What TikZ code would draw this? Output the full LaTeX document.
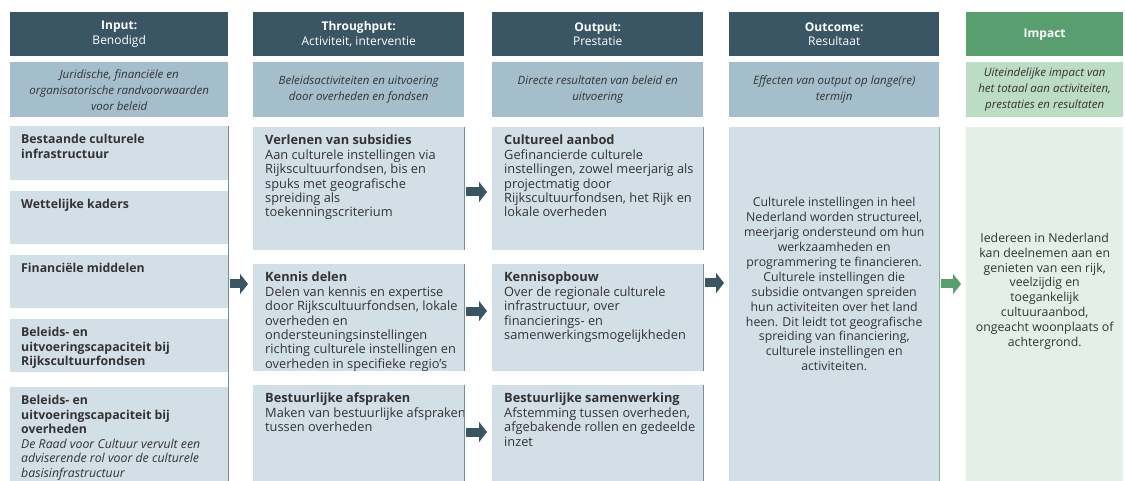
\documentclass[tikz,border=0pt]{standalone}
\usepackage{fontspec}
\setmainfont{Open Sans}
\usetikzlibrary{arrows.meta}

\definecolor{headdark}{HTML}{3A5564}
\definecolor{headgreen}{HTML}{589E6E}
\definecolor{subblue}{HTML}{A4BFCB}
\definecolor{subgreen}{HTML}{BCDCC4}
\definecolor{cellblue}{HTML}{D3DFE6}
\definecolor{cellgreen}{HTML}{E4F0E7}
\definecolor{edgeblue}{HTML}{7A8D99}
\definecolor{edgegreen}{HTML}{7DB38F}
\definecolor{inkgray}{HTML}{333333}

\tikzset{
  box/.style={anchor=north west, inner sep=0pt},
  head/.style={box, fill=headdark, minimum height=44pt, text=white, align=center,
    font=\fontsize{12}{14.5}\selectfont},
  sub/.style={box, fill=subblue, minimum height=55pt, text=inkgray, align=center,
    font=\fontsize{11.5}{16}\selectfont\itshape},
  cell/.style={box, fill=cellblue},
  txt/.style={anchor=north west, inner sep=0pt, align=left, text=inkgray,
    xshift=12pt, yshift=-8pt, font=\fontsize{12.8}{14.4}\selectfont},
  intxt/.style={txt, xshift=-1pt, font=\fontsize{12.3}{14.6}\selectfont},
  mid/.style={inner sep=0pt, align=center, text=inkgray,
    font=\fontsize{12.3}{14.9}\selectfont},
  flow/.style={line width=9pt, -{Triangle[length=8pt,width=20pt]}, headdark,
    shorten <=2pt, shorten >=5pt},
}

\begin{document}
\begin{tikzpicture}[x=1pt, y=-1pt]
  \useasboundingbox (0,0) rectangle (1125,481);

  % column heads
  \node[head, minimum width=218pt] (hin) at (10,12) {\textbf{Input:}\\Benodigd};
  \node[head, minimum width=211pt] (hthr) at (253,12) {\textbf{Throughput:}\\Activiteit, interventie};
  \node[head, minimum width=211pt] (hout) at (492,12) {\textbf{Output:}\\Prestatie};
  \node[head, minimum width=210pt] (hoc) at (729,12) {\textbf{Outcome:}\\Resultaat};
  \node[head, fill=headgreen, minimum width=157pt] (himp) at (966,12) {\textbf{Impact}};

  \node[sub, minimum width=218pt] (sin) at (10,62) {Juridische, financiële en\\organisatorische randvoorwaarden\\voor beleid};
  \node[sub, minimum width=211pt] (sthr) at (253,62) {Beleidsactiviteiten en uitvoering\\door overheden en fondsen};
  \node[sub, minimum width=211pt] (sout) at (492,62) {Directe resultaten van beleid en\\uitvoering};
  \node[sub, minimum width=210pt] (soc) at (729,62) {Effecten van output op lange(re)\\termijn};
  \node[sub, fill=subgreen, minimum width=157pt] (simp) at (966,62) {Uiteindelijke impact van\\het totaal aan activiteiten,\\prestaties en resultaten};

  % input
  \node[cell, minimum width=218pt, minimum height=54pt] (in1) at (10,126) {};
  \node[cell, minimum width=218pt, minimum height=53pt] (in2) at (10,191) {};
  \node[cell, minimum width=218pt, minimum height=53pt] (in3) at (10,255) {};
  \node[cell, minimum width=218pt, minimum height=53pt] (in4) at (10,319) {};
  \node[cell, minimum width=218pt, minimum height=94pt] (in5) at (10,387) {};
  \draw[edgeblue] (in1.north east) -- (in5.south east);

  \node[intxt] (in1t) at (in1.north west) {\textbf{Bestaande culturele}\\\textbf{infrastructuur}};
  \node[intxt] (in2t) at (in2.north west) {\textbf{Wettelijke kaders}};
  \node[intxt] (in3t) at (in3.north west) {\textbf{Financiële middelen}};
  \node[intxt] (in4t) at (in4.north west) {\textbf{Beleids- en}\\\textbf{uitvoeringscapaciteit bij}\\\textbf{Rijkscultuurfondsen}};
  \node[intxt] (in5t) at (in5.north west) {\textbf{Beleids- en}\\\textbf{uitvoeringscapaciteit bij}\\\textbf{overheden}\\\textit{De Raad voor Cultuur vervult een}\\\textit{adviserende rol voor de culturele}\\\textit{basisinfrastructuur}};

  % throughput
  \node[cell, minimum width=211pt, minimum height=123pt] (thr1) at (253,127) {};
  \node[cell, minimum width=211pt, minimum height=107pt] (thr2) at (253,264) {};
  \node[cell, minimum width=211pt, minimum height=96pt] (thr3) at (253,385) {};

  \node[txt] (thr1t) at (thr1.north west) {\textbf{Verlenen van subsidies}\\Aan culturele instellingen via\\Rijkscultuurfondsen, bis en\\spuks met geografische\\spreiding als\\toekenningscriterium};
  \node[txt] (thr2t) at (thr2.north west) {\textbf{Kennis delen}\\Delen van kennis en expertise\\door Rijkscultuurfondsen, lokale\\overheden en\\ondersteuningsinstellingen\\richting culturele instellingen en\\overheden in specifieke regio’s};
  \node[txt] (thr3t) at (thr3.north west) {\textbf{Bestuurlijke afspraken}\\Maken van bestuurlijke afspraken\\tussen overheden};

  % output
  \node[cell, minimum width=211pt, minimum height=123pt] (out1) at (492,127) {};
  \node[cell, minimum width=211pt, minimum height=107pt] (out2) at (492,264) {};
  \node[cell, minimum width=211pt, minimum height=96pt] (out3) at (492,385) {};

  \node[txt] (out1t) at (out1.north west) {\textbf{Cultureel aanbod}\\Gefinancierde culturele\\instellingen, zowel meerjarig als\\projectmatig door\\Rijkscultuurfondsen, het Rijk en\\lokale overheden};
  \node[txt] (out2t) at (out2.north west) {\textbf{Kennisopbouw}\\Over de regionale culturele\\infrastructuur, over\\financierings- en\\samenwerkingsmogelijkheden};
  \node[txt] (out3t) at (out3.north west) {\textbf{Bestuurlijke samenwerking}\\Afstemming tussen overheden,\\afgebakende rollen en gedeelde\\inzet};

  \foreach \n in {thr1,thr2,thr3,out1,out2,out3}
    \draw[edgeblue] (\n.north east) -- (\n.south east);

  % outcome and impact
  \node[cell, minimum width=210pt, minimum height=354pt] (oc) at (729,127) {};
  \node[cell, fill=cellgreen, minimum width=157pt, minimum height=354pt] (imp) at (966,127) {};
  \draw[edgegreen] (oc.north east) -- (oc.south east);

  \node[mid] (oct) at ([yshift=20pt]oc.center) {Culturele instellingen in heel\\Nederland worden structureel,\\meerjarig ondersteund om hun\\werkzaamheden en\\programmering te financieren.\\Culturele instellingen die\\subsidie ontvangen spreiden\\hun activiteiten over het land\\heen. Dit leidt tot geografische\\spreiding van financiering,\\culturele instellingen en\\activiteiten.};
  \node[mid] (impt) at ([yshift=13pt]imp.center) {Iedereen in Nederland\\kan deelnemen aan en\\genieten van een rijk,\\veelzijdig en\\toegankelijk\\cultuuraanbod,\\ongeacht woonplaats of\\achtergrond.};

  % arrows
  \draw[flow] (in3.east |- 0,284) -- (thr2.west |- 0,284);
  \draw[flow] (thr1.east |- 0,192) -- (out1.west |- 0,192);
  \draw[flow] (thr2.east |- 0,311) -- (out2.west |- 0,311);
  \draw[flow] (thr3.east |- 0,432) -- (out3.west |- 0,432);
  \draw[flow] (out2.east |- 0,283) -- (oc.west |- 0,283);
  \draw[flow, headgreen] (oc.east |- 0,284) -- (imp.west |- 0,284);
\end{tikzpicture}
\end{document}
